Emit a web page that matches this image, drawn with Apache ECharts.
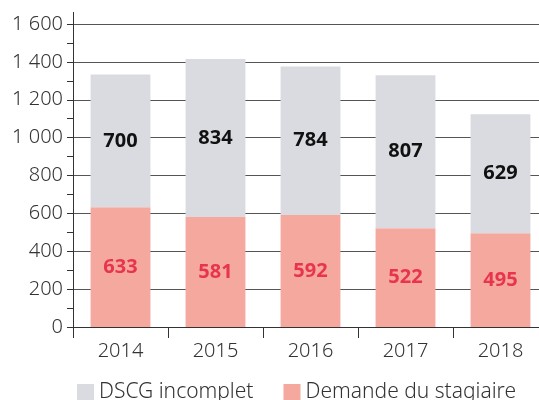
<!DOCTYPE html>
<html>
<head>
<meta charset="utf-8">
<script src="https://cdn.jsdelivr.net/npm/echarts@6/dist/echarts.min.js"></script>
<style>
    html, body { margin: 0; padding: 0; background: #fff; }
    #main { width: 539px; height: 400px; }
</style>
</head>
<body>
<div id="main"></div>
<script>
const years = ['2014', '2015', '2016', '2017', '2018']
const demande = [633, 581, 592, 522, 495]
const dscg = [700, 834, 784, 807, 629]
const seriesNames = ['DSCG incomplet', 'Demande du stagiaire']

const font = 'Noto Sans'
const fmt = v => String(v).replace(/\B(?=(\d{3})+(?!\d))/g, ' ')

echarts.init(document.getElementById('main')).setOption({
    animation: false,
    textStyle: { fontFamily: font },
    grid: {
        left: 73,
        width: 475,
        top: 24,
        bottom: 73,
        outerBoundsMode: 'none'
    },
    legend: {
        data: seriesNames,
        bottom: -8,
        left: 72,
        icon: 'rect',
        itemWidth: 17,
        itemHeight: 17,
        itemGap: 30,
        textStyle: { fontSize: 21, color: '#333', fontFamily: font, fontWeight: 300 }
    },
    xAxis: {
        type: 'category',
        data: years,
        axisLine: { lineStyle: { color: '#333', width: 1 } },
        axisTick: { show: true, length: 11, lineStyle: { color: '#333' } },
        axisLabel: { fontSize: 20, color: '#333', margin: 14, fontWeight: 300 }
    },
    yAxis: {
        type: 'value',
        min: 0,
        max: 1600,
        interval: 200,
        axisLine: { show: true, lineStyle: { color: '#333', width: 1 } },
        axisTick: { show: true, length: 6, lineStyle: { color: '#333' } },
        minorTick: { show: true, splitNumber: 2, length: 6, lineStyle: { color: '#333' } },
        splitLine: { show: true, lineStyle: { color: '#555', width: 1 } },
        axisLabel: { fontSize: 20, color: '#333', margin: 10, fontWeight: 300, formatter: fmt }
    },
    // petit bout d'axe au-dessus de 1 600
    graphic: [{
        type: 'line',
        shape: { x1: 73.5, y1: 12, x2: 73.5, y2: 24 },
        style: { stroke: '#333', lineWidth: 1 }
    }],
    series: [
        {
            name: seriesNames[1],
            type: 'bar',
            stack: 'total',
            barCategoryGap: '37%',
            data: demande,
            itemStyle: { color: '#f5a89d' },
            label: {
                show: true,
                position: 'inside',
                fontSize: 20,
                fontWeight: 'bold',
                color: '#e8354e',
                fontFamily: font
            }
        },
        {
            name: seriesNames[0],
            type: 'bar',
            stack: 'total',
            data: dscg,
            itemStyle: { color: '#dadbe0' },
            label: {
                show: true,
                position: 'inside',
                fontSize: 20,
                fontWeight: 'bold',
                color: '#111',
                fontFamily: font
            }
        }
    ]
})
</script>
</body>
</html>
